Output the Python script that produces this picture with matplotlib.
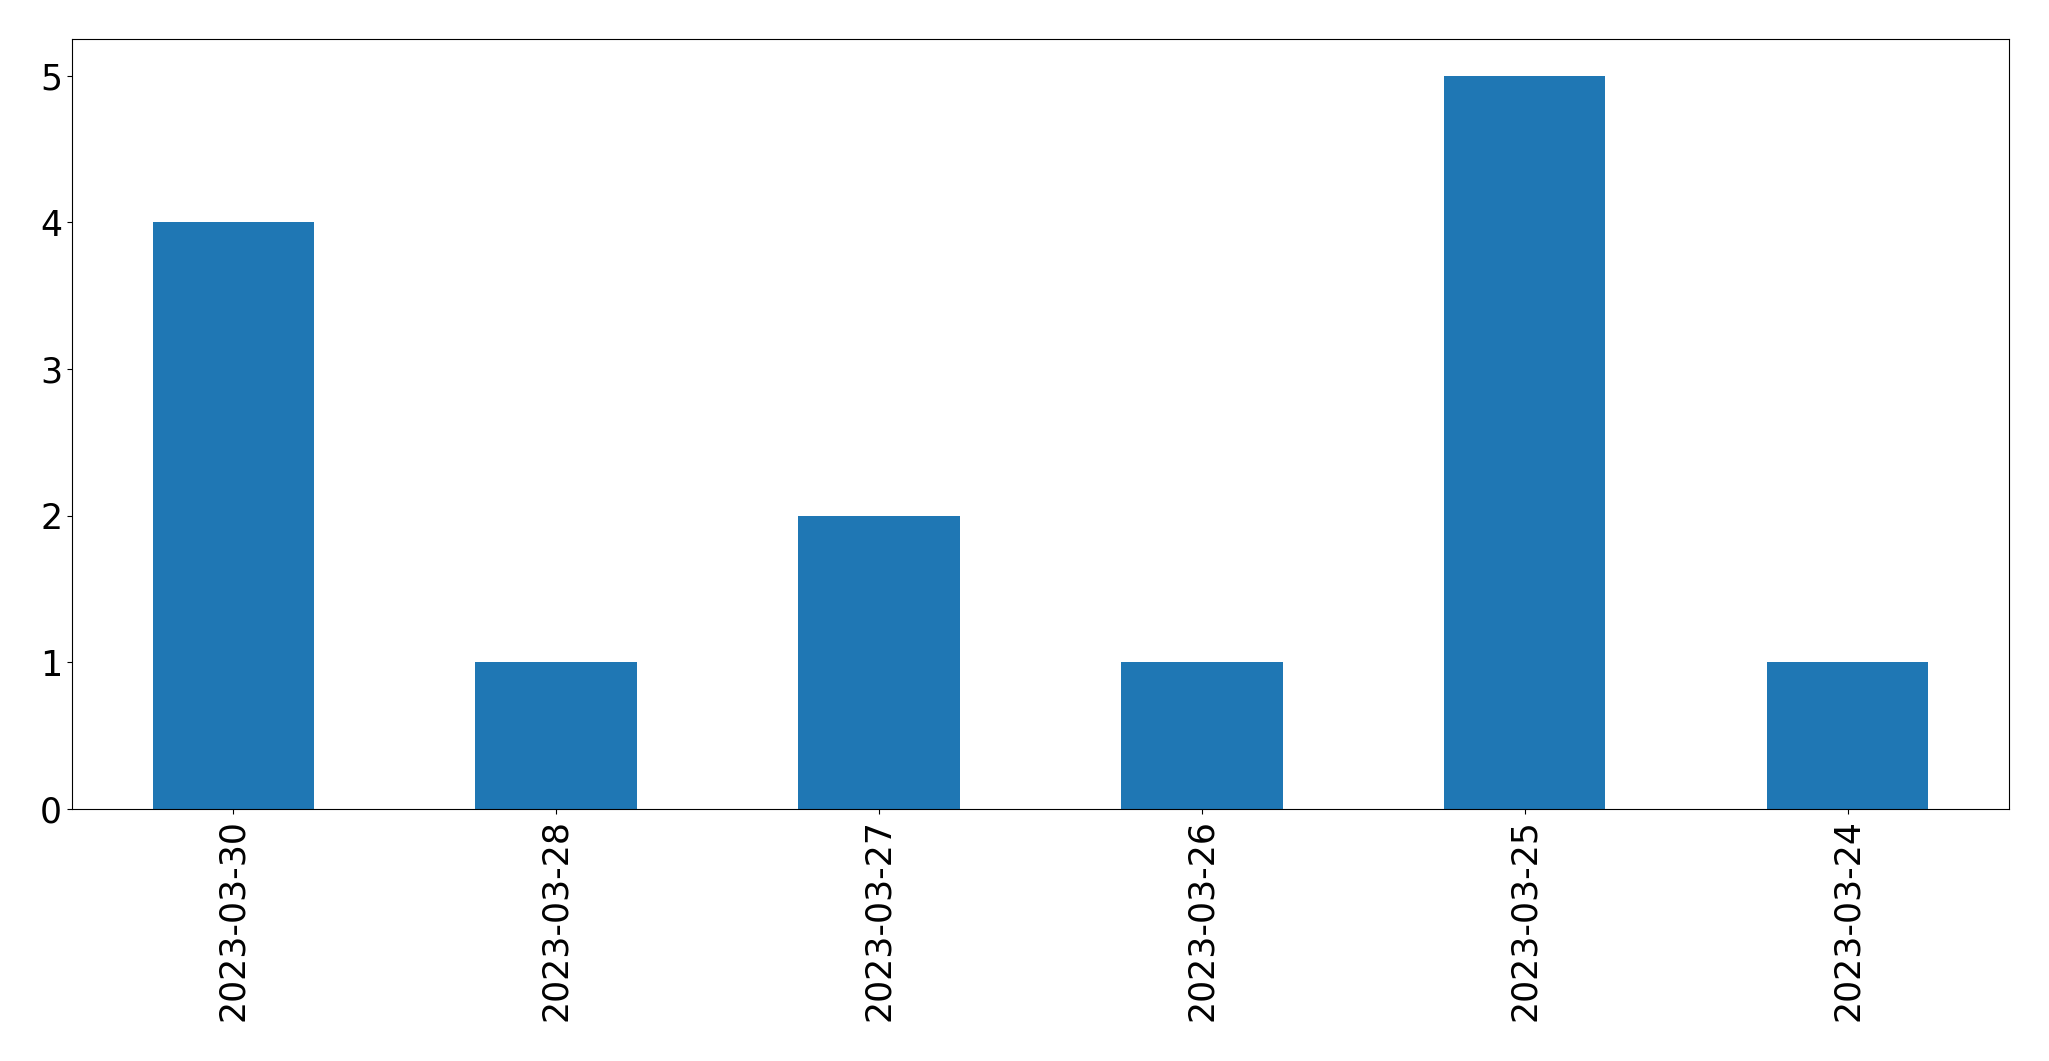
import pandas as pd
import matplotlib.pyplot as plt

dates = ['2023-03-30', '2023-03-28', '2023-03-27', '2023-03-26', '2023-03-25', '2023-03-24']
counts = [4, 1, 2, 1, 5, 1]

s = pd.Series(counts, index=dates)

fig, ax = plt.subplots(figsize=(20.49, 10.61), dpi=100)
s.plot(kind='bar', ax=ax, fontsize=25, color='#1f77b4')
fig.subplots_adjust(left=0.0351, right=0.9805, top=0.9632, bottom=0.2375)
fig.savefig('out.png', dpi=100)
